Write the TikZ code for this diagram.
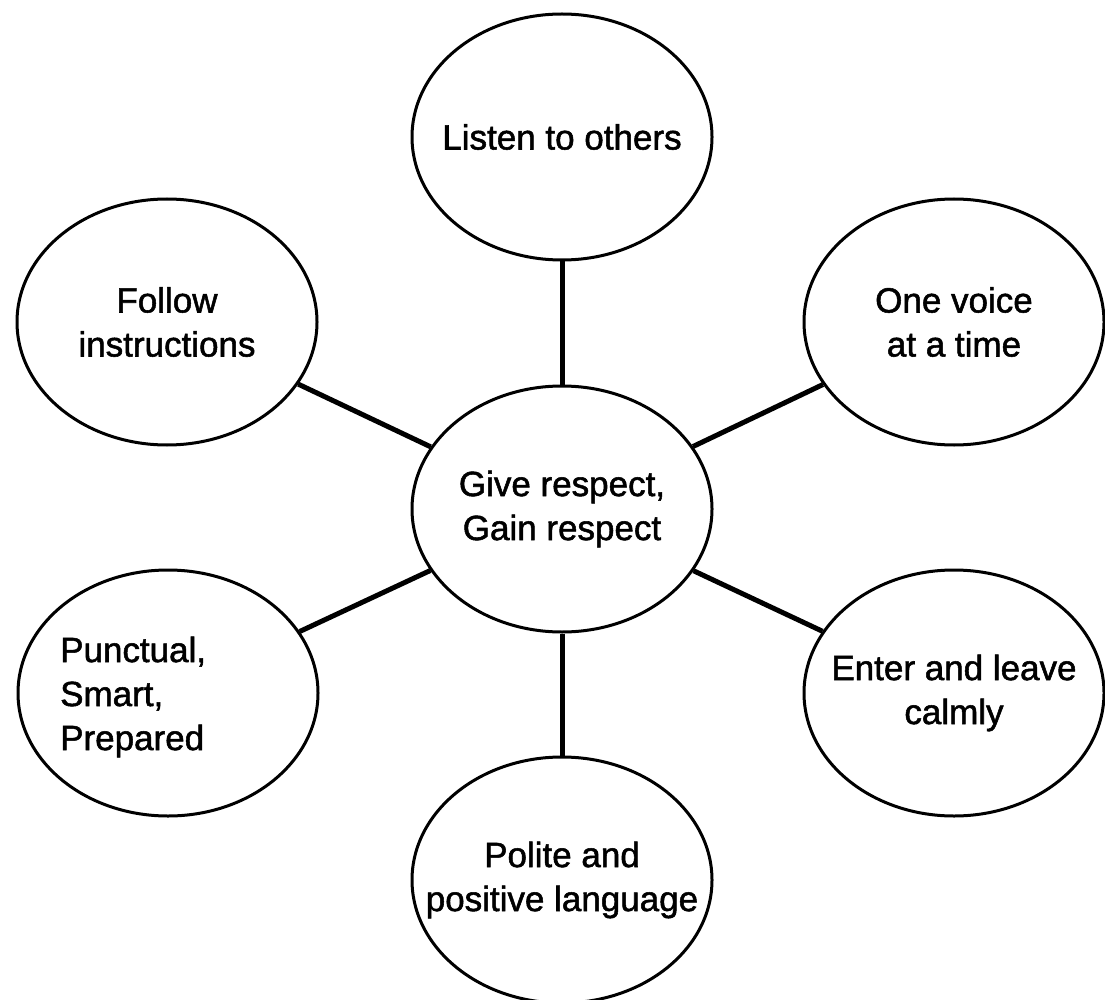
\documentclass[tikz,border=0pt]{standalone}
\usepackage{fontspec}
\setmainfont{Liberation Sans}
\newfontfamily\bubfont[FakeBold=1.5]{Liberation Sans}
\usetikzlibrary{shapes.geometric}
\tikzset{
  bub/.style={ellipse, draw=black, line width=3pt, fill=white, minimum width=300pt, minimum height=246pt, inner sep=0pt},
  txt/.style={font=\bubfont\fontsize{35}{44}\selectfont, align=center, inner sep=0pt, text=black},
  conn/.style={draw=black, line width=5pt}
}
\begin{document}
\begin{tikzpicture}[x=1pt, y=-1pt]
\useasboundingbox (0,0) rectangle (1105,1000);
\fill[white] (0,0) rectangle (1105,1000);
\node[bub, label={[txt]center:Listen to others}] (top) at (562,137) {};
\node[bub, label={[txt]center:Follow\\instructions}] (lt) at (167,322) {};
\node[bub, label={[txt]center:One voice\\at a time}] (rt) at (954,322) {};
\node[bub, label={[txt]center:Give respect,\\Gain respect}] (ctr) at (562,509) {};
\node[bub] (lb) at (168,693) {};
\node[txt, align=left, anchor=west] (lbt) at (60,697) {Punctual,\\Smart,\\Prepared};
\node[bub, label={[txt]center:Enter and leave\\calmly}] (rb) at (954,693) {};
\node[bub, label={[txt]center:Polite and\\positive language}] (bot) at (562,880) {};
\draw[conn] (ctr) -- (top);
\draw[conn] (ctr) -- (lt);
\draw[conn] (ctr) -- (rt);
\draw[conn] (ctr) -- (lb);
\draw[conn] (ctr) -- (rb);
\draw[conn] (ctr) -- (bot);
\end{tikzpicture}
\end{document}
